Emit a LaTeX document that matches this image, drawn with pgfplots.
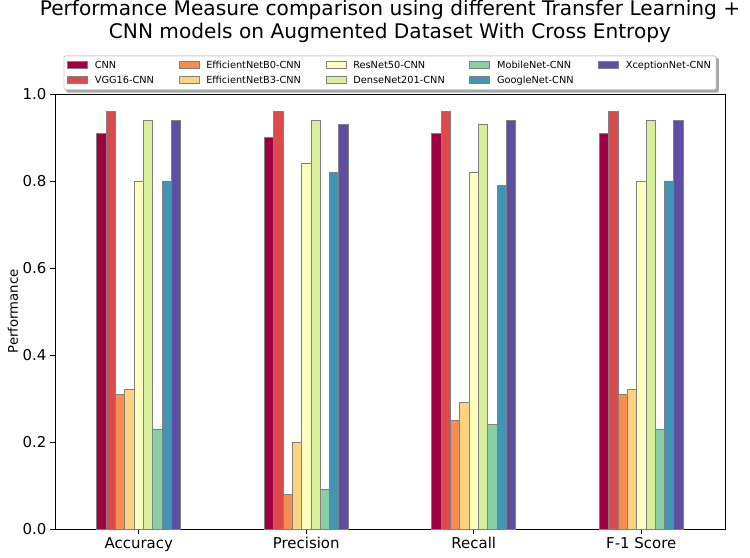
\documentclass[border=0pt]{standalone}
\usepackage{fontspec}
\setmainfont{DejaVu Sans}
\usepackage{pgfplots}
\pgfplotsset{compat=1.18}
\usetikzlibrary{backgrounds}
\definecolor{c1}{HTML}{9E0142}
\definecolor{c2}{HTML}{DC4A4C}
\definecolor{c3}{HTML}{F88D52}
\definecolor{c4}{HTML}{FED380}
\definecolor{c5}{HTML}{FFFFBF}
\definecolor{c6}{HTML}{D7EF9B}
\definecolor{c7}{HTML}{88D0A4}
\definecolor{c8}{HTML}{3F96B7}
\definecolor{c9}{HTML}{5E4FA2}
\begin{document}
\begin{tikzpicture}
\begin{axis}[name=ax, scale only axis, width=670bp, height=435bp,
  ybar=0pt, bar width=9.306bp,
  xmin=-0.5, xmax=3.5, ymin=0, ymax=1,
  xtick={0,1,2,3}, xticklabels={Accuracy,Precision,Recall,F-1 Score},
  ytick={0,0.2,0.4,0.6,0.8,1.0},
  yticklabel style={/pgf/number format/fixed, /pgf/number format/fixed zerofill, /pgf/number format/precision=1},
  /pgf/number format/assume math mode=true,
  tick label style={font=\fontsize{15}{18}\selectfont},
  tick align=outside, tick pos=left, major tick length=5bp,
  axis line style={line width=0.8bp},
  every tick/.style={black, line width=0.8bp},
  ylabel={Performance},
  ylabel style={font=\fontsize{13.3}{15}\selectfont, at={([xshift=-42bp]rel axis cs:0,0.5)}, anchor=center},
  title={Performance Measure comparison using different Transfer Learning +\\CNN models on Augmented Dataset With Cross Entropy},
  title style={font=\fontsize{20.2}{23}\selectfont, align=center, at={(rel axis cs:0.5,1)}, anchor=south, yshift=45bp, inner sep=0pt},
  legend columns=2, transpose legend, legend cell align=left,
  legend style={name=leg, at={(0.5,1.009)}, anchor=south, font=\fontsize{9.8}{11}\selectfont,
    draw=black!20, line width=0.8bp, rounded corners=2bp, fill=white,
    inner xsep=3bp, inner ysep=3bp, row sep=2bp,
    /tikz/every odd column/.append style={column sep=5bp},
    /tikz/every even column/.append style={column sep=22.5bp}},
  every axis plot/.append style={draw=gray, line width=0.8bp},
  every axis plot post/.append style={legend image code/.code={\draw[##1, sharp corners, line width=0.8bp] (0bp,-3.5bp) rectangle (20bp,3.5bp);}},
]
\addplot[fill=c1] coordinates {(0,0.91) (1,0.90) (2,0.91) (3,0.91)};
\addlegendentry{CNN}
\addplot[fill=c2] coordinates {(0,0.96) (1,0.96) (2,0.96) (3,0.96)};
\addlegendentry{VGG16-CNN}
\addplot[fill=c3] coordinates {(0,0.31) (1,0.08) (2,0.25) (3,0.31)};
\addlegendentry{EfficientNetB0-CNN}
\addplot[fill=c4] coordinates {(0,0.32) (1,0.20) (2,0.29) (3,0.32)};
\addlegendentry{EfficientNetB3-CNN}
\addplot[fill=c5] coordinates {(0,0.80) (1,0.84) (2,0.82) (3,0.80)};
\addlegendentry{ResNet50-CNN}
\addplot[fill=c6] coordinates {(0,0.94) (1,0.94) (2,0.93) (3,0.94)};
\addlegendentry{DenseNet201-CNN}
\addplot[fill=c7] coordinates {(0,0.23) (1,0.09) (2,0.24) (3,0.23)};
\addlegendentry{MobileNet-CNN}
\addplot[fill=c8] coordinates {(0,0.80) (1,0.82) (2,0.79) (3,0.80)};
\addlegendentry{GoogleNet-CNN}
\addplot[fill=c9] coordinates {(0,0.94) (1,0.93) (2,0.94) (3,0.94)};
\addlegendentry{XceptionNet-CNN}
\end{axis}
\begin{scope}[on background layer]
\fill[gray!70, rounded corners=2bp] ([shift={(2.5bp,-2.5bp)}]leg.south west) rectangle ([shift={(2.5bp,-2.5bp)}]leg.north east);
\end{scope}
\pgfresetboundingbox
\path ([shift={(-55bp,-29bp)}]ax.south west) rectangle ([shift={(25bp,94bp)}]ax.north east);
\end{tikzpicture}
\end{document}
